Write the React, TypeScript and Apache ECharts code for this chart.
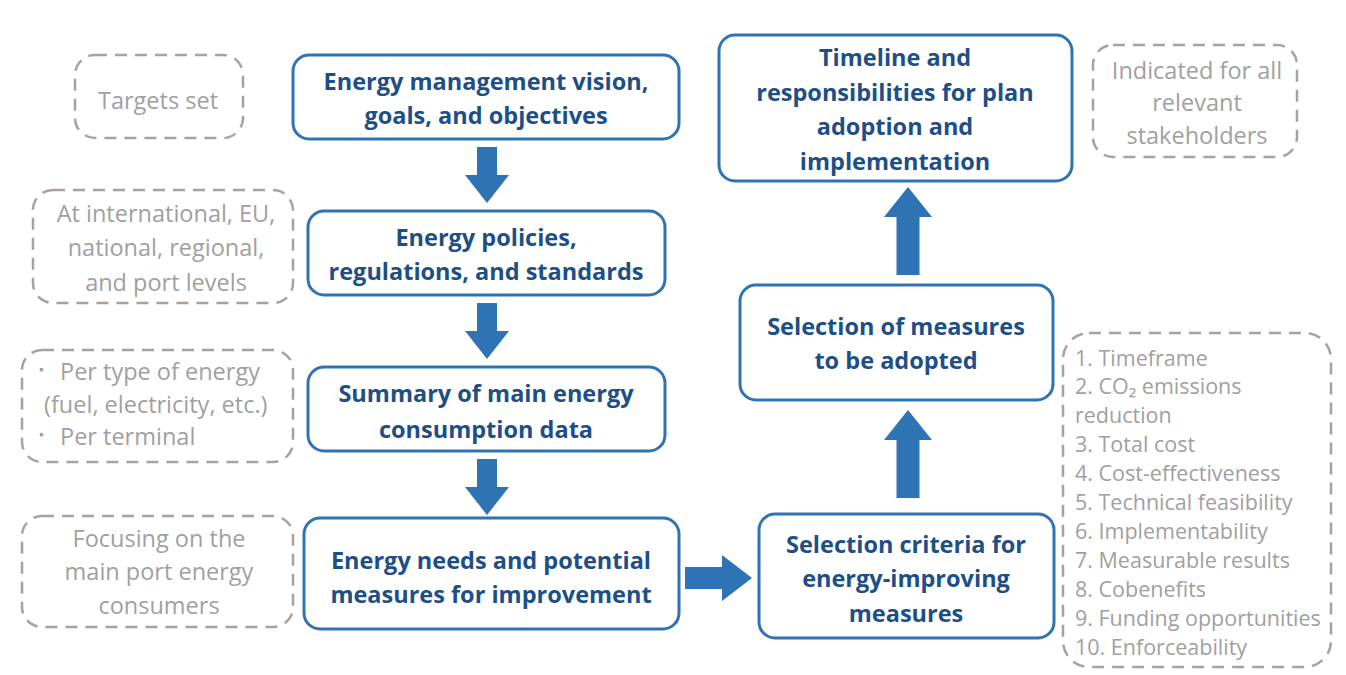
import React, { useEffect, useRef } from "react";
import * as echarts from "echarts";

// ---- Diagram content (texts) ----
const stepTexts: string[] = [
  "Energy management vision,\ngoals, and objectives",
  "Energy policies,\nregulations, and standards",
  "Summary of main energy\nconsumption data",
  "Energy needs and potential\nmeasures for improvement",
  "Selection criteria for\nenergy-improving\nmeasures",
  "Selection of measures\nto be adopted",
  "Timeline and\nresponsibilities for plan\nadoption and\nimplementation",
];

const noteTexts: string[] = [
  "Targets set",
  "At international, EU,\nnational, regional,\nand port levels",
  "Focusing on the\nmain port energy\nconsumers",
  "Indicated for all\nrelevant\nstakeholders",
];

const bulletItems: string[] = ["Per type of energy", "Per terminal"];
const bulletContinuation = "(fuel, electricity, etc.)";

const criteria: string[] = [
  "1. Timeframe",
  "2. CO₂ emissions",
  "reduction",
  "3. Total cost",
  "4. Cost-effectiveness",
  "5. Technical feasibility",
  "6. Implementability",
  "7. Measurable results",
  "8. Cobenefits",
  "9. Funding opportunities",
  "10. Enforceability",
];

// ---- Layout (positions / sizes) ----
const stepLayout = [
  { x: 293, y: 55, w: 386, h: 84, cx: 486, cy: 98, lh: 34 },
  { x: 308, y: 211, w: 357, h: 84, cx: 486, cy: 254, lh: 34 },
  { x: 308, y: 367, w: 357, h: 84, cx: 486, cy: 411, lh: 36 },
  { x: 304, y: 518, w: 375, h: 111, cx: 491, cy: 577, lh: 34 },
  { x: 759, y: 514, w: 295, h: 124, cx: 906, cy: 578, lh: 34.5 },
  { x: 740, y: 285, w: 313, h: 115, cx: 896, cy: 343, lh: 34 },
  { x: 719, y: 35, w: 353, h: 146, cx: 895, cy: 109, lh: 34.7 },
];

const noteLayout = [
  { x: 75, y: 55, w: 168, h: 83, cx: 158, cy: 100, lh: 34 },
  { x: 33, y: 190, w: 260, h: 113, cx: 166, cy: 247, lh: 34.5 },
  { x: 22, y: 516, w: 271, h: 111, cx: 159, cy: 571, lh: 33.5 },
  { x: 1093, y: 45, w: 204, h: 112, cx: 1197, cy: 102, lh: 32.5 },
];

const BLUE = "#2e74b5";
const TEXT_BLUE = "#1d4f86";
const GRAY_LINE = "#a8a19c";
const GRAY_TEXT = "#a0a0a0";
const FONT = "'Open Sans', Lato, sans-serif";

function downArrow(cx: number, top: number, bottom: number, headLen: number, shaftW: number, headW: number) {
  const hb = bottom - headLen;
  return [
    [cx - shaftW / 2, top],
    [cx + shaftW / 2, top],
    [cx + shaftW / 2, hb],
    [cx + headW / 2, hb],
    [cx, bottom],
    [cx - headW / 2, hb],
    [cx - shaftW / 2, hb],
  ];
}
function upArrow(cx: number, tip: number, bottom: number, headLen: number, shaftW: number, headW: number) {
  const hb = tip + headLen;
  return [
    [cx, tip],
    [cx + headW / 2, hb],
    [cx + shaftW / 2, hb],
    [cx + shaftW / 2, bottom],
    [cx - shaftW / 2, bottom],
    [cx - shaftW / 2, hb],
    [cx - headW / 2, hb],
  ];
}
function rightArrow(left: number, tip: number, cy: number, headLen: number, shaftH: number, headH: number) {
  const hb = tip - headLen;
  return [
    [left, cy - shaftH / 2],
    [hb, cy - shaftH / 2],
    [hb, cy - headH / 2],
    [tip, cy],
    [hb, cy + headH / 2],
    [hb, cy + shaftH / 2],
    [left, cy + shaftH / 2],
  ];
}

export default function App() {
  const ref = useRef<HTMLDivElement>(null);
  useEffect(() => {
    if (!ref.current) return;
    const chart = echarts.init(ref.current, undefined, { renderer: "svg" });
    const elements: any[] = [];

    // Blue step boxes
    stepTexts.forEach((t, i) => {
      const L = stepLayout[i];
      elements.push({
        type: "rect",
        shape: { x: L.x, y: L.y, width: L.w, height: L.h, r: 16 },
        style: { fill: "#ffffff", stroke: BLUE, lineWidth: 3 },
      });
      elements.push({
        type: "text",
        x: L.cx,
        y: L.cy,
        style: {
          text: t,
          fill: TEXT_BLUE,
          font: `bold 23.5px ${FONT}`,
          align: "center",
          verticalAlign: "middle",
          lineHeight: L.lh,
        },
      });
    });

    // Dashed note boxes
    noteTexts.forEach((t, i) => {
      const L = noteLayout[i];
      elements.push({
        type: "rect",
        shape: { x: L.x, y: L.y, width: L.w, height: L.h, r: 20 },
        style: { fill: "none", stroke: GRAY_LINE, lineWidth: 2.5, lineDash: [12, 8] },
      });
      elements.push({
        type: "text",
        x: L.cx,
        y: L.cy,
        style: {
          text: t,
          fill: GRAY_TEXT,
          font: `23.5px ${FONT}`,
          align: "center",
          verticalAlign: "middle",
          lineHeight: L.lh,
        },
      });
    });

    // Bullet note box
    elements.push({
      type: "rect",
      shape: { x: 22, y: 350, width: 271, height: 112, r: 20 },
      style: { fill: "none", stroke: GRAY_LINE, lineWidth: 2.5, lineDash: [12, 8] },
    });
    const bulletYs = [371, 436];
    bulletItems.forEach((t, i) => {
      elements.push({
        type: "text",
        x: 39,
        y: bulletYs[i] - 2,
        style: { text: "▪", fill: GRAY_TEXT, font: `12px ${FONT}`, align: "left", verticalAlign: "middle" },
      });
      elements.push({
        type: "text",
        x: 60,
        y: bulletYs[i],
        style: { text: t, fill: GRAY_TEXT, font: `23.5px ${FONT}`, align: "left", verticalAlign: "middle" },
      });
    });
    elements.push({
      type: "text",
      x: 44,
      y: 404,
      style: { text: bulletContinuation, fill: GRAY_TEXT, font: `23.5px ${FONT}`, align: "left", verticalAlign: "middle" },
    });

    // Criteria list box
    elements.push({
      type: "rect",
      shape: { x: 1063, y: 333, width: 268, height: 334, r: 26 },
      style: { fill: "none", stroke: GRAY_LINE, lineWidth: 2.5, lineDash: [12, 8] },
    });
    criteria.forEach((t, i) => {
      elements.push({
        type: "text",
        x: 1075,
        y: 357 + i * 28.9,
        style: { text: t, fill: GRAY_TEXT, font: `21.5px ${FONT}`, align: "left", verticalAlign: "middle" },
      });
    });

    // Arrows
    const arrowPolys = [
      downArrow(487, 147, 203, 28, 20, 44),
      downArrow(487, 303, 359, 28, 20, 44),
      downArrow(487, 459, 515, 28, 20, 44),
      rightArrow(685, 752, 578, 30, 22, 46),
      upArrow(908, 410, 498, 30, 23, 48),
      upArrow(908, 187, 275, 30, 23, 48),
    ];
    arrowPolys.forEach((pts) => {
      elements.push({
        type: "polygon",
        shape: { points: pts },
        style: { fill: BLUE, stroke: "none" },
      });
    });

    chart.setOption({
      animation: false,
      backgroundColor: "#ffffff",
      graphic: { elements },
    });
    return () => chart.dispose();
  }, []);

  return (
    <div
      ref={ref}
      style={{ position: "fixed", left: 0, top: 0, width: 1346, height: 675 }}
    />
  );
}
